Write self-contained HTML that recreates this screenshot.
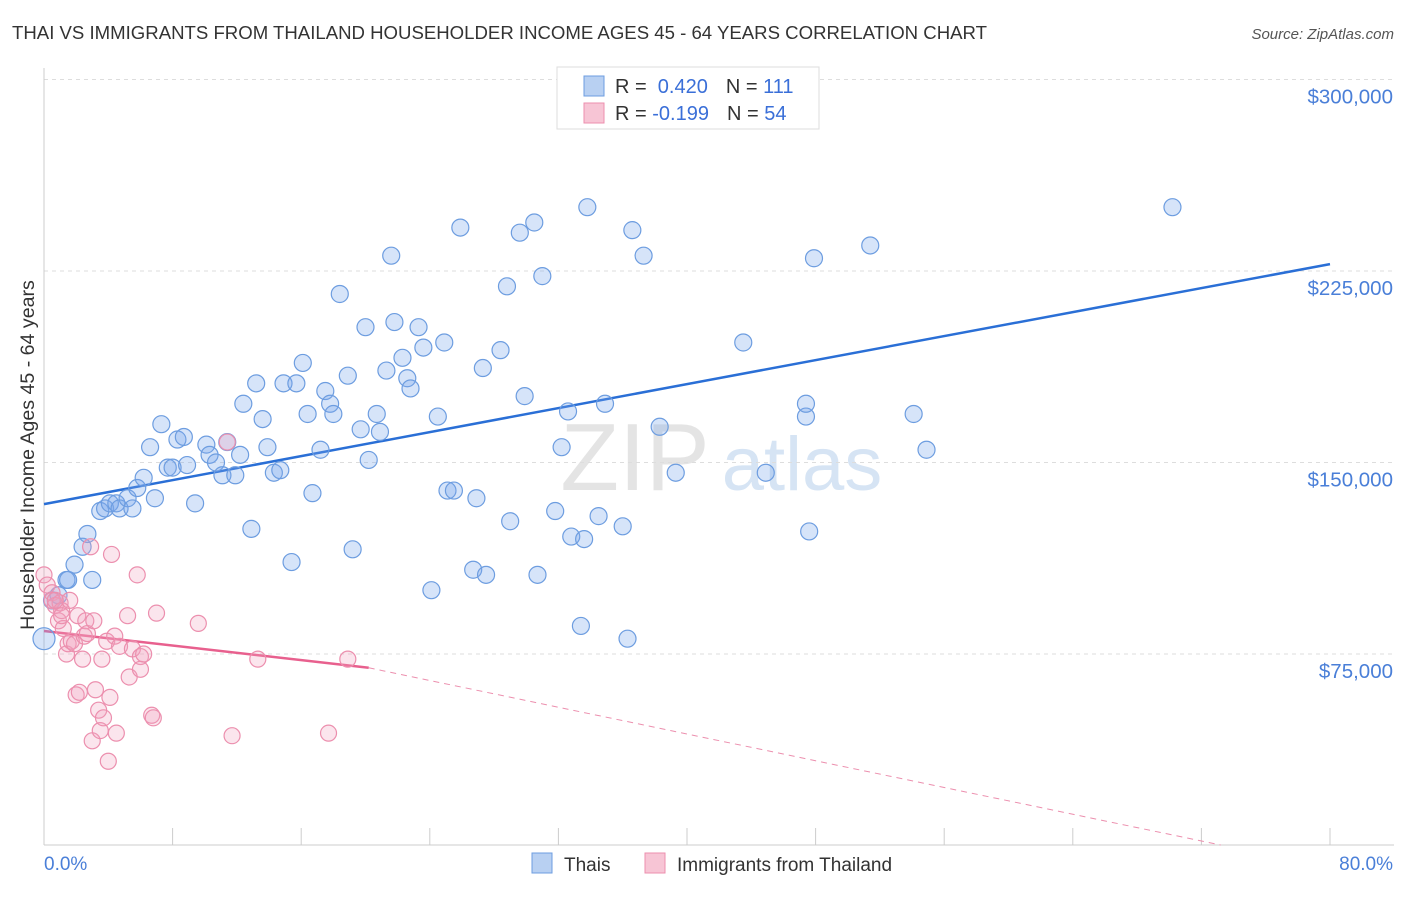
<!DOCTYPE html>
<html><head><meta charset="utf-8"><style>
body{margin:0;background:#fff;font-family:"Liberation Sans",sans-serif;}
svg text{font-family:"Liberation Sans",sans-serif;}
</style></head><body>
<svg id="chart" width="1406" height="892" xmlns="http://www.w3.org/2000/svg">
<text x="12" y="39" font-size="18.6" fill="#333">THAI VS IMMIGRANTS FROM THAILAND HOUSEHOLDER INCOME AGES 45 - 64 YEARS CORRELATION CHART</text>
<text x="1394" y="39" font-size="15" fill="#555" text-anchor="end" font-style="italic">Source: ZipAtlas.com</text>
<g><text x="635" y="490" font-size="96" fill="#e4e4e4" text-anchor="middle" font-family="Liberation Serif">ZIP</text><text x="802" y="490" font-size="76" fill="#d6e4f4" text-anchor="middle">atlas</text></g>
<g id="grid"></g><g id="axes"></g><g id="trends"></g><g id="pts"></g>
<text transform="translate(34,455) rotate(-90)" font-size="19.6" fill="#333" text-anchor="middle">Householder Income Ages 45 - 64 years</text>
<text x="44" y="870" font-size="19" fill="#4a7fd8">0.0%</text>
<text x="1393" y="870" font-size="19" fill="#4a7fd8" text-anchor="end">80.0%</text>
<g>
<rect x="557" y="67" width="262" height="62" fill="#fff" stroke="#ddd"/>
<rect x="584" y="76" width="20" height="20" fill="#b8d0f2" stroke="#6d9de0"/>
<rect x="584" y="103" width="20" height="20" fill="#f7c5d5" stroke="#ec8fae"/>
<text x="615" y="93" font-size="20" fill="#333">R = <tspan fill="#3a6fd8">&#160;0.420</tspan><tspan dx="18">N = </tspan><tspan fill="#3a6fd8">111</tspan></text>
<text x="615" y="120" font-size="20" fill="#333">R = <tspan fill="#3a6fd8">-0.199</tspan><tspan dx="18">N = </tspan><tspan fill="#3a6fd8">54</tspan></text>
</g>
<g>
<rect x="532" y="853" width="20" height="20" fill="#b8d0f2" stroke="#6d9de0"/>
<text x="564" y="871" font-size="19" fill="#333">Thais</text>
<rect x="645" y="853" width="20" height="20" fill="#f7c5d5" stroke="#ec8fae"/>
<text x="677" y="871" font-size="19" fill="#333">Immigrants from Thailand</text>
</g>
</svg>
<script>
const yTicks=[75,150,225,300];
const yTickLabels=["$75,000","$150,000","$225,000","$300,000"];
const xTicks=[0,8,16,24,32,40,48,56,64,72,80];
const blueX=[0.0,0.5,0.9,1.4,1.5,1.9,2.4,2.7,3.0,3.5,3.8,4.1,4.5,4.7,5.2,5.5,5.8,6.2,6.6,6.9,7.3,7.7,8.0,8.3,8.7,8.9,9.4,10.1,10.3,10.7,11.1,11.4,11.9,12.2,12.4,12.9,13.2,13.6,13.9,14.3,14.7,14.9,15.4,15.7,16.1,16.4,16.7,17.2,17.5,17.8,18.0,18.4,18.9,19.2,19.7,20.0,20.2,20.7,20.9,21.3,21.6,21.8,22.3,22.6,22.8,23.3,23.6,24.1,24.5,24.9,25.1,25.5,25.9,26.7,26.9,27.3,27.5,28.4,28.8,29.0,29.6,29.9,30.5,30.7,31.0,31.8,32.2,32.6,32.8,33.6,33.4,33.8,34.5,34.9,36.0,36.3,36.6,37.3,38.3,39.3,43.5,44.9,47.4,47.4,47.6,47.9,51.4,54.1,54.9,70.2];
const blueY=[81,96,98,104,104,110,117,122,104,131,132,134,134,132,136,132,140,144,156,136,165,148,148,159,160,149,134,157,153,150,145,158,145,153,173,124,181,167,156,146,147,181,111,181,189,169,138,155,178,173,169,216,184,116,163,203,151,169,162,186,231,205,191,183,179,203,195,100,168,197,139,139,242,108,136,187,106,194,219,127,240,176,244,106,223,131,156,170,121,120,86,250,129,173,125,81,241,231,164,146,197,146,168,173,123,230,235,169,155,250];
const pinkX=[0.0,0.2,0.5,0.5,0.7,0.9,1.0,1.1,1.2,1.4,1.5,1.6,1.7,1.9,2.0,2.1,2.2,2.4,2.5,2.6,2.7,2.9,3.0,3.1,3.2,3.4,3.5,3.6,3.7,3.9,4.0,4.1,4.2,4.4,4.5,4.7,5.2,5.3,5.5,5.8,6.0,6.0,6.2,6.7,6.8,7.0,9.6,11.4,11.7,13.3,17.7,18.9,0.7,1.1];
const pinkY=[106,102,99,96,94,88,95,92,85,75,79,96,80,79,59,90,60,73,82,88,83,117,41,88,61,53,45,73,50,80,33,58,114,82,44,78,90,66,77,106,74,69,75,51,50,91,87,158,43,73,44,73,96,90];
const blueTrendX=[0,80], blueTrendY=[133.7,227.7];
const pinkTrendX=[0,20.2,73.2], pinkTrendY=[84,69.6,0.2];

const X0=44,X1=1330,Y0=845.5,YS=191.5/75;
const sx=v=>X0+(X1-X0)*v/80, sy=v=>Y0-v*YS;
const NS="http://www.w3.org/2000/svg";
function mk(tag,attrs,parent){const e=document.createElementNS(NS,tag);for(const k in attrs)e.setAttribute(k,attrs[k]);document.getElementById(parent).appendChild(e);return e;}
yTicks.forEach((t,i)=>{
  const l=mk('line',{x1:44,x2:1394,y1:sy(t),y2:sy(t),stroke:'#ddd','stroke-dasharray':'4,4'},'grid');
  
  
  const tx=mk('text',{x:1393,y:sy(t)+24,'font-size':20.5,fill:'#4a7fd8','text-anchor':'end'},'grid');
  tx.textContent=yTickLabels[i];
  
  
});
let a=mk('line',{x1:44,x2:44,y1:68,y2:845,stroke:'#ccc'},'axes');


a=mk('line',{x1:44,x2:1394,y1:845,y2:845,stroke:'#ccc'},'axes');


xTicks.forEach(t=>{
  const l=mk('line',{x1:sx(t),x2:sx(t),y1:828,y2:845,stroke:'#ccc'},'axes');
  
  
});
let tl=mk('line',{x1:sx(blueTrendX[0]),y1:sy(blueTrendY[0]),x2:sx(blueTrendX[1]),y2:sy(blueTrendY[1]),stroke:'#2a6fd6','stroke-width':2.5},'trends');


tl=mk('line',{x1:sx(pinkTrendX[0]),y1:sy(pinkTrendY[0]),x2:sx(pinkTrendX[1]),y2:sy(pinkTrendY[1]),stroke:'#e8608e','stroke-width':2.5},'trends');


tl=mk('line',{x1:sx(pinkTrendX[1]),y1:sy(pinkTrendY[1]),x2:sx(pinkTrendX[2]),y2:sy(pinkTrendY[2]),stroke:'#ec8fae','stroke-width':1,'stroke-dasharray':'6,5'},'trends');


blueX.forEach((v,i)=>{
  const c=mk('circle',{cx:sx(v),cy:sy(blueY[i]),r:i==0?11:8.5,fill:'rgba(120,165,235,0.3)',stroke:'#6d9de0','stroke-width':1.2},'pts');
  
  
});
pinkX.forEach((v,i)=>{
  const c=mk('circle',{cx:sx(v),cy:sy(pinkY[i]),r:8,fill:'rgba(242,160,190,0.28)',stroke:'#ec8fae','stroke-width':1.2},'pts');
  
  
});
</script>
</body></html>
